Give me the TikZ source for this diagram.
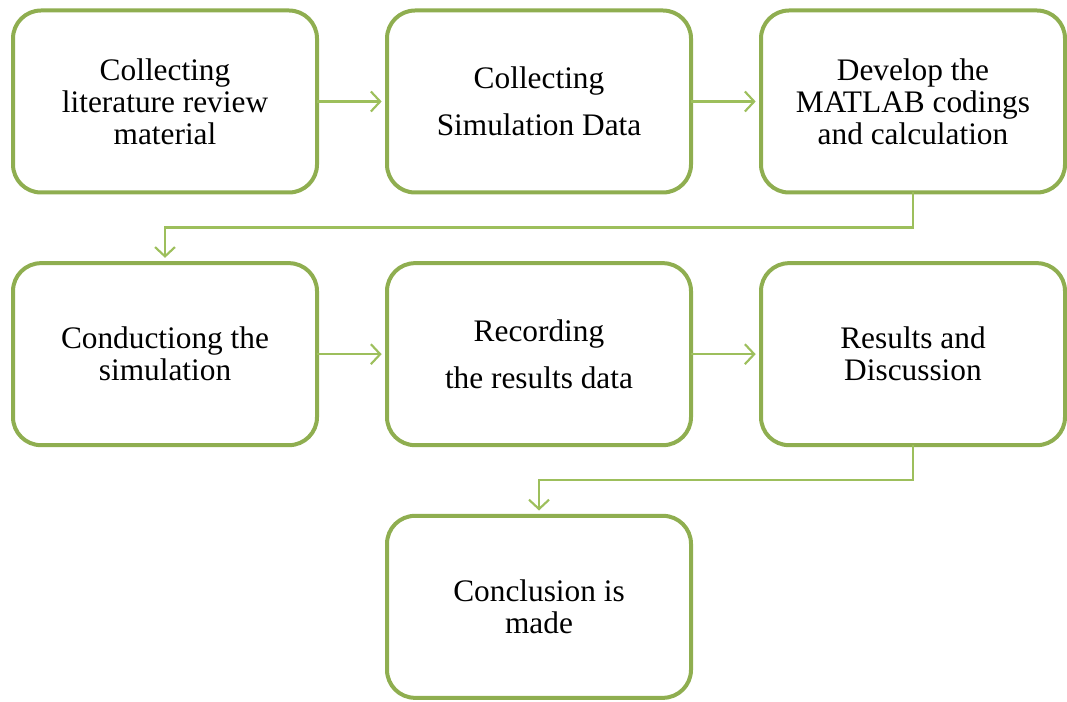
\documentclass[tikz,border=0pt]{standalone}
\usepackage{fontspec}
\setmainfont{Liberation Serif}
\usepackage{tikz}
\usetikzlibrary{arrows.meta,positioning}

\definecolor{boxgreen}{HTML}{8FAE50}
\definecolor{arrowgreen}{HTML}{9DBF5C}

\begin{document}
\begin{tikzpicture}[x=0.75pt,y=-0.75pt,node distance=53pt and 52.5pt,
    stage/.style={draw=boxgreen,line width=3pt,rounded corners=21pt,
        minimum width=228pt,minimum height=136.5pt,outer sep=0pt,
        align=center,font=\fontsize{23.5}{24}\selectfont},
    flow/.style={draw=arrowgreen,line width=1.6pt,
        -{Straight Barb[length=7pt,width=15pt,line width=1.6pt]},shorten >=4pt}]
    \useasboundingbox (0,0) rectangle (1067,702);
    \node[stage] (collect)                    at (165,101.5) {Collecting\\literature review\\material};
    \node[stage] (simdata)  [right=of collect] {Collecting\\[11pt]Simulation Data};
    \node[stage] (matlab)   [right=of simdata] {Develop the\\MATLAB codings\\and calculation};
    \node[stage] (conduct)  [below=of collect] {Conductiong the\\simulation};
    \node[stage] (record)   [right=of conduct] {Recording\\[11pt]the results data};
    \node[stage] (results)  [right=of record]  {Results and\\Discussion};
    \node[stage] (conclude) [below=of record]  {Conclusion is\\made};
    \draw[flow] (collect) -- (simdata);
    \draw[flow] (simdata) -- (matlab);
    \draw[flow] (matlab.south) -- ++(0,35) -| (conduct.north);
    \draw[flow] (conduct) -- (record);
    \draw[flow] (record) -- (results);
    \draw[flow] (results.south) -- ++(0,35) -| (conclude.north);
\end{tikzpicture}
\end{document}
